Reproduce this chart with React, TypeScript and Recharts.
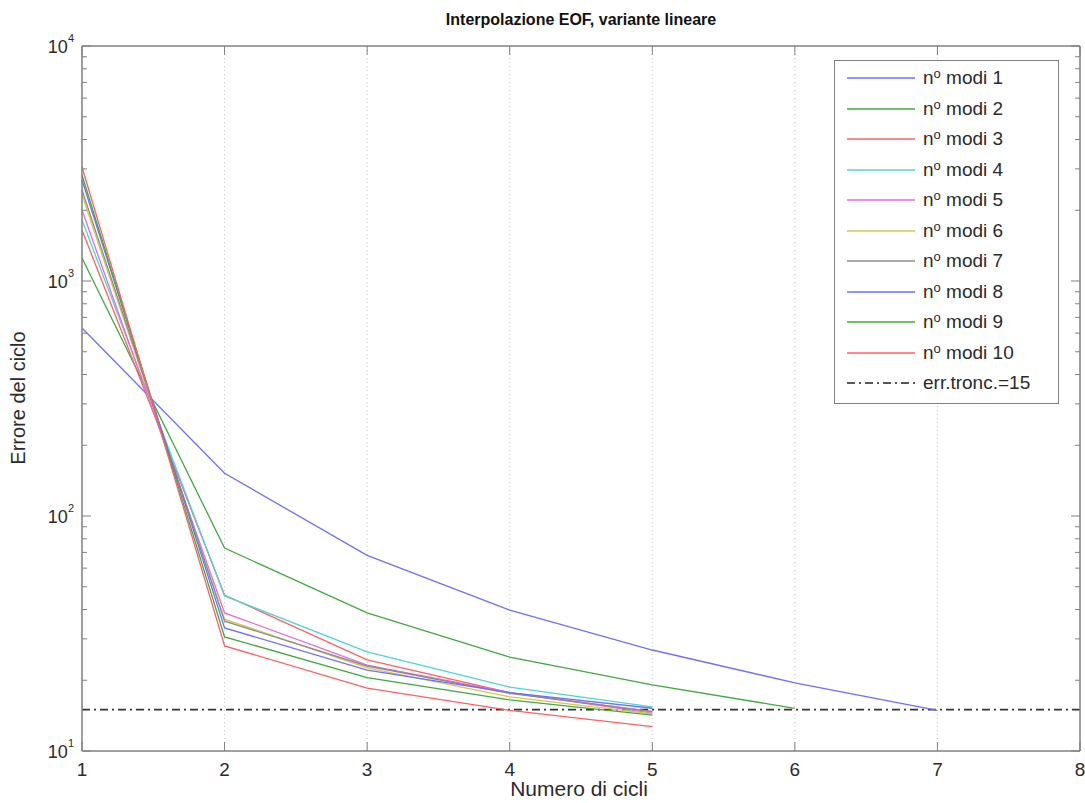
import { LineChart, Line, XAxis, YAxis, CartesianGrid, ReferenceLine, Legend } from "recharts";

// valori (errore per ciclo)
const CYCLES = [1, 2, 3, 4, 5, 6, 7];
const X_TICKS = [1, 2, 3, 4, 5, 6, 7, 8];
const Y_DECADES = [10, 100, 1000, 10000];
const Y_MINOR = [2, 3, 4, 5, 6, 7, 8, 9];

const modi1 = [631, 152, 68, 39.8, 26.9, 19.5, 14.9];
const modi2 = [1253, 73, 38.7, 25.1, 19.1, 15.2];
const modi3 = [1648, 46.1, 24.4, 17.7, 14.7];
const modi4 = [1819, 45.7, 26.4, 18.7, 15.4];
const modi5 = [2005, 38.7, 23.2, 17.7, 14.5];
const modi6 = [2323, 36.4, 22.6, 17.0, 14.4];
const modi7 = [2440, 35.7, 23.0, 17.6, 14.7];
const modi8 = [2690, 33.4, 22.1, 17.7, 15.2];
const modi9 = [2825, 30.6, 20.5, 16.5, 14.2];
const modi10 = [3055, 28.0, 18.5, 14.9, 12.7];

const ERR_TRONC = 15;

const SERIES = [
  { key: "m1", label: "1", values: modi1, color: "#6f6fff" },
  { key: "m2", label: "2", values: modi2, color: "#42a842" },
  { key: "m3", label: "3", values: modi3, color: "#ff6060" },
  { key: "m4", label: "4", values: modi4, color: "#4fd4d4" },
  { key: "m5", label: "5", values: modi5, color: "#e06ce0" },
  { key: "m6", label: "6", values: modi6, color: "#d4c84a" },
  { key: "m7", label: "7", values: modi7, color: "#8c8c8c" },
  { key: "m8", label: "8", values: modi8, color: "#6f6fff" },
  { key: "m9", label: "9", values: modi9, color: "#42a842" },
  { key: "m10", label: "10", values: modi10, color: "#ff6060" },
];

const data = CYCLES.map((c, i) => {
  const row: Record<string, number | undefined> = { x: c };
  SERIES.forEach((s) => {
    row[s.key] = s.values[i];
  });
  return row;
});

const yTicks = Y_DECADES.flatMap((d, i) =>
  i < Y_DECADES.length - 1 ? [d, ...Y_MINOR.map((m) => d * m)] : [d]
);

const AXIS = "#808080";
const TXT = "#2b2b2b";
const FONT = "'Liberation Sans', Arial, Helvetica, sans-serif";

const isDecade = (v: number) => Math.abs(Math.log10(v) - Math.round(Math.log10(v))) < 1e-6;

const LeftTick = ({ x, y, payload }: any) => {
  const v = payload.value;
  const major = isDecade(v);
  return (
    <g>
      <line x1={x} x2={x + (major ? 9 : 5)} y1={y} y2={y} stroke={AXIS} />
      {major && (
        <text x={x - 8} y={y + 7} textAnchor="end" fontSize={18} fill={TXT} fontFamily={FONT}>
          10
          <tspan dy={-11} fontSize={11}>
            {Math.round(Math.log10(v))}
          </tspan>
        </text>
      )}
    </g>
  );
};

const RightTick = ({ x, y, payload }: any) => {
  const major = isDecade(payload.value);
  return <line x1={x} x2={x - (major ? 9 : 5)} y1={y} y2={y} stroke={AXIS} />;
};

const BottomTick = ({ x, y, payload }: any) => (
  <g>
    <line x1={x} x2={x} y1={y} y2={y - 9} stroke={AXIS} />
    <text x={x} y={y + 25} textAnchor="middle" fontSize={19} fill={TXT} fontFamily={FONT}>
      {payload.value}
    </text>
  </g>
);

const TopTick = ({ x, y }: any) => <line x1={x} x2={x} y1={y} y2={y + 9} stroke={AXIS} />;

const renderLegend = (props: any) => {
  const payload = props.payload || [];
  const order = SERIES.map((s) => s.key);
  const items = payload
    .filter((p: any) => order.includes(p.dataKey))
    .sort((a: any, b: any) => order.indexOf(a.dataKey) - order.indexOf(b.dataKey));
  const row = (key: string, sample: any, text: any) => (
    <div key={key} style={{ display: "flex", alignItems: "center", height: 30.5 }}>
      <svg width={80} height={10} style={{ flex: "none" }}>
        {sample}
      </svg>
      <span style={{ marginLeft: 8, fontSize: 19, color: TXT, fontFamily: FONT, whiteSpace: "nowrap" }}>{text}</span>
    </div>
  );
  return (
    <div style={{ border: `1px solid ${AXIS}`, background: "#fff", padding: "2px 0 4px 0", boxSizing: "border-box" }}>
      {items.map((p: any) =>
        row(
          p.dataKey,
          <line x1={12} x2={80} y1={5} y2={5} stroke={p.color} strokeWidth={1.4} />,
          <>
            n<sup style={{ fontSize: 13, verticalAlign: "6px", lineHeight: 0 }}>o</sup> modi {p.value}
          </>
        )
      )}
      {row(
        "tronc",
        <line x1={12} x2={80} y1={5} y2={5} stroke="#222" strokeWidth={1.5} strokeDasharray="8 4 2 4" />,
        <>err.tronc.={ERR_TRONC}</>
      )}
    </div>
  );
};

export default function App() {
  return (
    <div style={{ position: "absolute", left: 0, top: 0, width: 1085, height: 803, background: "#fff", fontFamily: FONT }}>
      <div
        style={{
          position: "absolute",
          left: 0,
          width: 1162,
          top: 11,
          textAlign: "center",
          fontWeight: "bold",
          fontSize: 16,
          color: "#111",
        }}
      >
        Interpolazione EOF, variante lineare
      </div>
      <div style={{ position: "absolute", left: 0, width: 1158, top: 777, textAlign: "center", fontSize: 21, color: TXT }}>
        Numero di cicli
      </div>
      <div
        style={{
          position: "absolute",
          left: 18,
          top: 398,
          transform: "translate(-50%, -50%) rotate(-90deg)",
          fontSize: 20,
          color: TXT,
          whiteSpace: "nowrap",
        }}
      >
        Errore del ciclo
      </div>
      <LineChart width={1085} height={803} data={data} margin={{ top: 45, right: 4, bottom: 22, left: 22 }}>
        <CartesianGrid horizontal={false} stroke="#c4c4c4" strokeDasharray="1 3" />
        <XAxis
          dataKey="x"
          type="number"
          domain={[1, 8]}
          ticks={X_TICKS}
          height={30}
          axisLine={{ stroke: AXIS, strokeWidth: 1.5 }}
          tickLine={false}
          tickSize={0}
          tickMargin={0}
          tick={<BottomTick />}
          interval={0}
        />
        <XAxis
          xAxisId="top"
          orientation="top"
          dataKey="x"
          type="number"
          domain={[1, 8]}
          ticks={X_TICKS}
          height={1}
          axisLine={{ stroke: AXIS, strokeWidth: 1.5 }}
          tickLine={false}
          tickSize={0}
          tickMargin={0}
          tick={<TopTick />}
          interval={0}
        />
        <YAxis
          scale="log"
          type="number"
          domain={[10, 10000]}
          allowDataOverflow
          ticks={yTicks}
          width={60}
          axisLine={{ stroke: AXIS, strokeWidth: 1.5 }}
          tickLine={false}
          tickSize={0}
          tickMargin={0}
          tick={<LeftTick />}
          interval={0}
        />
        <YAxis
          yAxisId="right"
          orientation="right"
          scale="log"
          type="number"
          domain={[10, 10000]}
          allowDataOverflow
          ticks={yTicks}
          width={1}
          axisLine={{ stroke: AXIS, strokeWidth: 1.5 }}
          tickLine={false}
          tickSize={0}
          tickMargin={0}
          tick={<RightTick />}
          interval={0}
        />
        <ReferenceLine y={ERR_TRONC} stroke="#333" strokeWidth={1.8} strokeDasharray="8 4 2 4" />
        {SERIES.map((s) => (
          <Line
            key={s.key}
            dataKey={s.key}
            name={s.label}
            type="linear"
            stroke={s.color}
            strokeWidth={1.3}
            dot={false}
            isAnimationActive={false}
          />
        ))}
        <Legend
          layout="vertical"
          align="center"
          verticalAlign="middle"
          content={renderLegend}
          wrapperStyle={{ position: "absolute", left: 834, top: 60, width: 225 }}
        />
      </LineChart>
    </div>
  );
}
